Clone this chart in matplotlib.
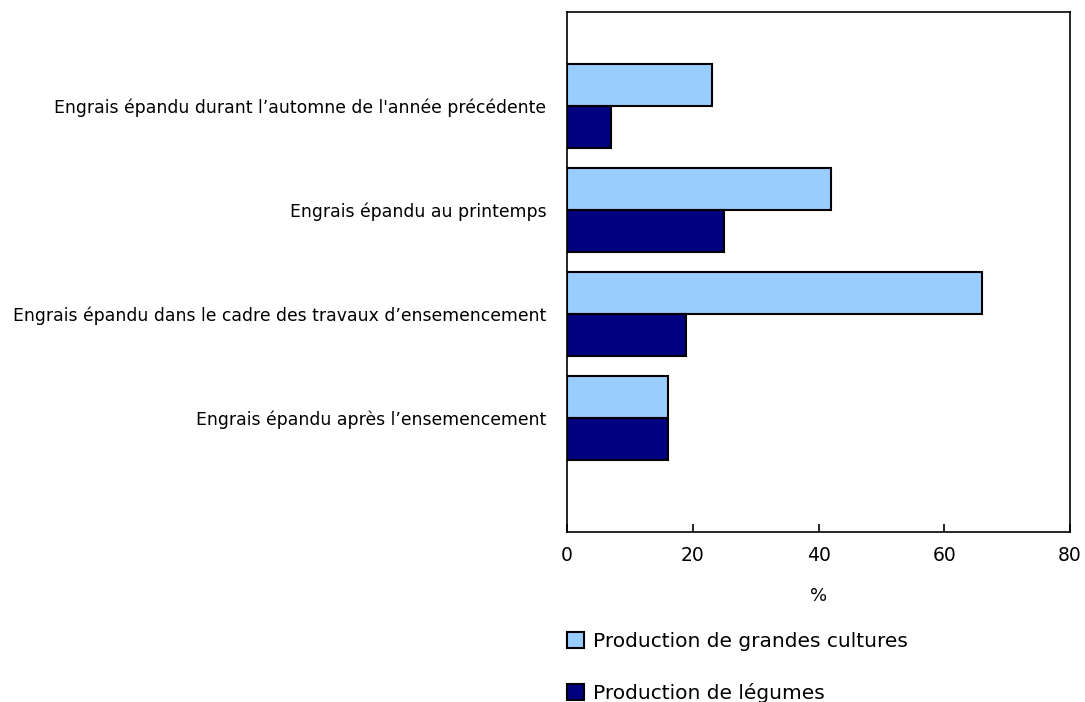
import matplotlib
matplotlib.use("Agg")
import matplotlib.pyplot as plt
import numpy as np

categories = [
    "Engrais épandu durant l’automne de l'année précédente",
    "Engrais épandu au printemps",
    "Engrais épandu dans le cadre des travaux d’ensemencement",
    "Engrais épandu après l’ensemencement",
]
grandes_cultures = [23, 42, 66, 16]
legumes = [7, 25, 19, 16]
series_labels = ["Production de grandes cultures", "Production de légumes"]
xticks = [0, 20, 40, 60, 80]

plt.rcParams['font.family'] = ['DejaVu Sans']

fig = plt.figure(figsize=(10.85, 7.02), dpi=100)
ax = fig.add_axes([567/1085, 1-532/702, (1070-567)/1085, (532-12)/702])

y = np.arange(len(categories))
h = 0.404
b1 = ax.barh(y - h/2, grandes_cultures, height=h, color="#99CCFF", edgecolor="black", linewidth=1.5, label=series_labels[0])
b2 = ax.barh(y + h/2, legumes, height=h, color="#000080", edgecolor="black", linewidth=1.5, label=series_labels[1])

ax.set_xlim(0, 80)
ax.set_ylim(4.096, -0.904)
ax.set_xticks(xticks)
ax.set_xticklabels([str(t) for t in xticks], fontsize=13.5)
ax.tick_params(axis='x', direction='in', length=6, width=1.2, pad=10)
ax.set_yticks(y)
ax.set_yticklabels(categories, fontsize=12.4)
ax.tick_params(axis='y', length=0, pad=15)
for s in ax.spines.values():
    s.set_linewidth(1.2)
ax.set_xlabel("%", fontsize=13, labelpad=16)

leg = fig.legend(handles=[b1, b2], labels=series_labels, loc='upper left',
                 bbox_to_anchor=(559/1085, 1-624/702), frameon=False,
                 fontsize=14.5, labelspacing=1.6, handlelength=0.85, handleheight=0.85,
                 handletextpad=0.45, borderaxespad=0)

fig.savefig("out.png", dpi=100)
